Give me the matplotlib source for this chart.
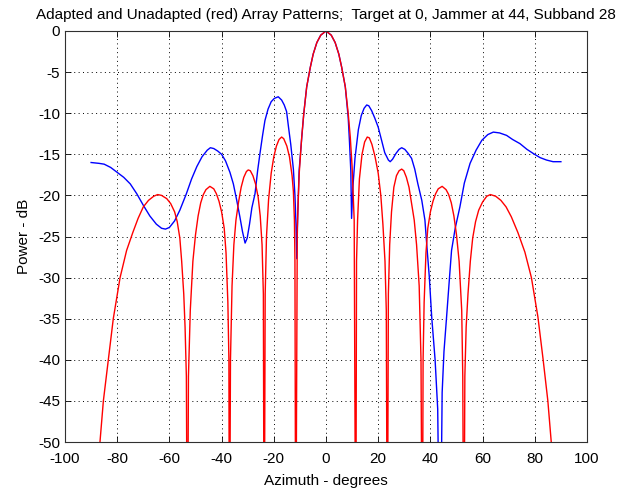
import matplotlib
matplotlib.use("Agg")
import matplotlib.pyplot as plt

# ---- data (azimuth deg, power dB) ----
red_az = [-86.6, -85.3, -83.4, -81.5, -78.9, -76.4, -74.0, -72.0, -70.0, -68.0, -66.0, -64.5,
          -63.0, -61.0, -59.5, -58.0, -57.0, -56.0, -55.3, -54.5, -54.0, -53.5, -53.1,
          -52.7, -52.0, -51.0, -50.0, -49.0, -48.0, -47.0, -46.0, -44.5, -43.0, -42.0,
          -41.0, -40.0, -39.0, -38.3, -37.6, -37.2, -37.0,
          -36.6, -36.0, -35.3, -34.5, -33.5, -32.5, -31.5, -30.5, -29.8, -29.0, -28.0,
          -27.0, -26.0, -25.2, -24.5, -24.0, -23.7,
          -23.3, -22.8, -22.0, -21.0, -20.0, -19.0, -18.0, -17.0, -16.2, -15.0, -14.0,
          -13.0, -12.5, -12.1, -11.9,
          -11.6, -11.0, -10.3, -9.3, -8.5, -7.4, -6.0, -4.9, -3.5, -2.0, 0.0,
          2.0, 3.5, 4.9, 6.0, 7.4, 8.5, 9.3, 10.0, 10.8, 11.4,
          11.7, 12.1, 12.8, 13.8, 14.8, 15.8, 16.6, 17.6, 18.8, 20.0, 21.0,
          21.8, 22.6, 23.1, 23.5,
          23.9, 24.4, 25.1, 26.0, 27.0, 28.0, 29.0, 29.8, 30.8, 31.8, 32.8,
          33.8, 34.7, 35.7, 36.4, 36.9,
          37.2, 37.6, 38.3, 39.0, 40.0, 41.0, 42.0, 43.0, 44.5, 46.0, 47.0,
          48.0, 49.0, 50.0, 51.0, 52.0, 52.4, 52.8,
          53.2, 53.7, 54.4, 55.3, 56.2, 57.3, 58.5, 60.0, 61.6, 63.0, 65.0,
          67.0, 69.0, 71.0, 73.5, 76.2, 78.7, 81.2, 83.2, 85.0, 86.3]
red_db = [-50.0, -45.0, -40.0, -35.0, -30.0, -26.7, -24.5, -22.8, -21.4, -20.6, -20.1, -19.9,
          -20.0, -20.4, -21.0, -22.0, -23.2, -25.2, -28.0, -32.0, -36.0, -42.0, -70.0,
          -42.0, -34.0, -28.0, -24.8, -22.5, -20.9, -19.9, -19.3, -18.9, -19.2, -19.8,
          -20.7, -22.0, -24.0, -27.0, -33.0, -40.0, -70.0,
          -40.0, -31.0, -26.0, -23.0, -20.8, -19.0, -17.8, -17.1, -16.9, -17.0, -17.6,
          -18.6, -20.2, -22.5, -26.0, -32.0, -70.0,
          -32.0, -25.0, -20.5, -17.3, -15.3, -14.0, -13.2, -12.9, -13.1, -14.0, -15.3,
          -17.6, -19.5, -23.0, -28.0,
          -70.0, -24.0, -17.5, -12.9, -10.0, -6.8, -4.4, -2.8, -1.4, -0.5, 0.0,
          -0.5, -1.4, -2.8, -4.4, -6.8, -10.0, -12.9, -16.5, -23.0, -70.0,
          -28.0, -23.0, -18.0, -15.0, -13.5, -12.9, -13.0, -13.8, -15.3, -17.3, -20.0,
          -23.5, -28.0, -34.0, -70.0,
          -32.0, -26.0, -22.0, -19.0, -17.6, -17.0, -16.8, -17.0, -17.8, -19.0, -21.0,
          -23.0, -26.0, -31.0, -40.0, -70.0,
          -40.0, -33.0, -27.0, -24.0, -22.0, -20.7, -19.8, -19.2, -18.9, -19.3, -19.9,
          -20.9, -22.5, -24.8, -28.0, -34.0, -42.0, -70.0,
          -42.0, -36.0, -32.0, -28.0, -25.2, -23.2, -21.8, -20.8, -20.1, -19.9, -20.1,
          -20.6, -21.4, -22.6, -24.5, -26.9, -30.0, -34.8, -40.0, -45.0, -50.0]

blue_az = [-90.0, -87.0, -85.0, -82.5, -80.0, -77.5, -75.0, -72.5, -70.0, -67.5, -65.0, -63.0,
           -61.5, -60.0, -58.0, -56.0, -53.5, -51.5, -49.5, -47.5, -45.5, -44.3, -43.0,
           -41.5, -40.0, -38.5, -36.8, -35.5, -34.2, -33.0, -32.0, -31.0, -30.2, -29.3,
           -28.4, -27.2, -26.2, -25.3, -24.3, -23.4, -22.2, -21.0, -19.8, -18.3, -17.0,
           -16.0, -15.1, -14.4, -13.5, -12.5, -11.9, -11.5, -11.2,
           -10.8, -10.3, -9.3, -8.5, -7.4, -6.0, -4.9, -3.5, -2.0, 0.0,
           2.0, 3.5, 4.9, 6.0, 7.4, 8.5, 9.0, 9.5, 9.8,
           10.3, 11.1, 12.4, 13.5, 14.6, 15.6, 16.4, 17.5, 18.7, 20.0, 21.3, 22.5, 23.9,
           24.6, 25.5, 26.8, 28.0, 29.0, 30.2, 31.5, 32.8, 34.0, 35.2, 36.7, 37.9, 38.6,
           39.6, 40.5, 41.8, 42.8, 43.7,
           44.5, 45.2, 46.2, 47.2, 48.1, 49.5, 51.3, 53.0, 55.2, 57.5, 59.7, 62.0, 64.1,
           66.5, 69.2, 71.5, 74.3, 77.0, 79.4, 82.0, 84.5, 87.0, 90.0]
blue_db = [-16.0, -16.1, -16.2, -16.6, -17.2, -17.8, -18.6, -19.8, -21.2, -22.5, -23.5, -24.0,
           -24.1, -23.9, -23.1, -21.8, -19.8, -18.0, -16.5, -15.3, -14.5, -14.2, -14.3,
           -14.6, -15.0, -15.8, -17.2, -18.6, -20.6, -22.6, -24.4, -25.8, -25.2, -23.5,
           -21.5, -19.8, -17.0, -14.9, -12.7, -10.9, -9.5, -8.6, -8.2, -8.0, -8.4,
           -9.0, -9.8, -11.6, -13.8, -16.8, -20.0, -23.5, -27.7,
           -22.0, -17.0, -13.0, -10.0, -6.8, -4.4, -2.8, -1.4, -0.5, 0.0,
           -0.5, -1.4, -2.8, -4.4, -6.8, -10.5, -13.5, -17.0, -22.8,
           -19.0, -15.5, -12.0, -10.3, -9.4, -9.0, -9.1, -9.7, -10.6, -11.7, -13.3, -14.8, -15.7,
           -15.9, -15.6, -14.9, -14.4, -14.2, -14.4, -14.9, -15.5, -16.8, -18.6, -20.6, -23.0, -26.0,
           -30.0, -34.8, -40.0, -46.0, -70.0,
           -44.0, -39.0, -34.8, -30.5, -26.7, -24.0, -21.4, -18.5, -16.1, -14.5, -13.3, -12.6, -12.3,
           -12.4, -12.7, -13.2, -13.7, -14.4, -14.9, -15.4, -15.7, -15.9, -15.9]

x_ticks = [-100, -80, -60, -40, -20, 0, 20, 40, 60, 80, 100]
y_ticks = [0, -5, -10, -15, -20, -25, -30, -35, -40, -45, -50]

title = "Adapted and Unadapted (red) Array Patterns;  Target at 0, Jammer at 44, Subband 28"

plt.rcParams['font.family'] = ['Liberation Sans', 'DejaVu Sans']
plt.rcParams['font.size'] = 11
plt.rcParams['axes.unicode_minus'] = False

fig = plt.figure(figsize=(6.25, 4.91), dpi=100)
ax = fig.add_axes([65 / 625, 1 - 442 / 491, (587 - 65) / 625, (442 - 31) / 491])

ax.plot(blue_az, blue_db, color='#0000ff', lw=1.0)
ax.plot(red_az, red_db, color='#ff0000', lw=1.0)

ax.set_xlim(-100, 100)
ax.set_ylim(-50, 0)
ax.set_xticks(x_ticks)
ax.set_yticks(y_ticks)
ax.grid(True, linestyle=(0, (1, 3.5)), color='black', linewidth=0.7)
ax.tick_params(direction='in', top=True, right=True, length=4, width=0.6, colors='black',
               labelsize=11)
ax.tick_params(axis='x', pad=7)
ax.tick_params(axis='y', pad=3.5)
for s in ax.spines.values():
    s.set_linewidth(0.8)
    s.set_color('#303030')

ax.set_xlabel("Azimuth - degrees", fontsize=11, labelpad=6)
ax.set_ylabel("Power - dB", fontsize=11, labelpad=5)
ax.set_title(title, fontsize=11, pad=9)

fig.savefig("out.png", dpi=100)
